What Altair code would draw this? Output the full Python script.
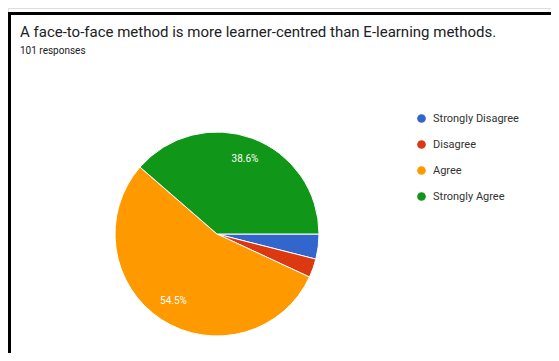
import altair as alt
import pandas as pd

categories = ["Strongly Disagree", "Disagree", "Agree", "Strongly Agree"]
counts = [4, 3, 55, 39]
colors = ["#3366cc", "#dc3912", "#ff9900", "#109618"]
title_text = "A face-to-face method is more learner-centred than E-learning methods."
subtitle_text = "101 responses"

total = sum(counts)
df = pd.DataFrame({
    "category": categories,
    "count": counts,
    "idx": list(range(len(categories))),
})
df["pct"] = [c / total for c in counts]

W, H = 543, 345
CX, CY, R = 209, 226, 102
FONT = "Roboto"

theta_scale = alt.Scale(range=[1.5707963, 1.5707963 + 6.2831853])

base = alt.Chart(df).encode(
    theta=alt.Theta("count:Q", stack=True, scale=theta_scale),
    order=alt.Order("idx:O"),
)

pie = base.mark_arc(outerRadius=R, stroke="white", strokeWidth=1).encode(
    x=alt.value(CX),
    y=alt.value(CY),
    color=alt.Color(
        "category:N",
        scale=alt.Scale(domain=categories, range=colors),
        sort=categories,
        legend=alt.Legend(
            title=None,
            orient="none",
            legendX=408,
            legendY=105,
            symbolType="circle",
            symbolSize=75,
            symbolStrokeWidth=0,
            labelFont=FONT,
            labelFontSize=11,
            labelColor="#333333",
            rowPadding=14,
            labelOffset=6,
        ),
    ),
)

labels = base.transform_calculate(
    lab="datum.pct >= 0.1 ? format(datum.pct, '.1%') : ''"
).mark_text(radius=80, font=FONT, fontSize=10, color="white").encode(
    x=alt.value(CX),
    y=alt.value(CY),
    text="lab:N",
)

title_df = pd.DataFrame({"t": [title_text], "s": [subtitle_text]})
title = alt.Chart(title_df).mark_text(
    align="left", baseline="alphabetic", font=FONT, fontSize=15, color="#202124"
).encode(x=alt.value(12), y=alt.value(29), text="t:N")
subtitle = alt.Chart(title_df).mark_text(
    align="left", baseline="middle", font=FONT, fontSize=10, color="#202124"
).encode(x=alt.value(12), y=alt.value(43), text="s:N")

frame_left = alt.Chart(title_df).mark_rule(color="black", strokeWidth=3).encode(
    x=alt.value(1.5), y=alt.value(4), y2=alt.value(H)
)
frame_top = alt.Chart(title_df).mark_rule(color="black", strokeWidth=3).encode(
    x=alt.value(0), x2=alt.value(W), y=alt.value(5.5)
)

chart = alt.layer(frame_left, frame_top, pie, labels, title, subtitle).properties(
    width=W, height=H, padding=0, autosize=alt.AutoSizeParams(type="none")
).configure_view(stroke=None).configure(background="white")

chart.save("out.html", embed_options={"renderer": "svg", "actions": False})
